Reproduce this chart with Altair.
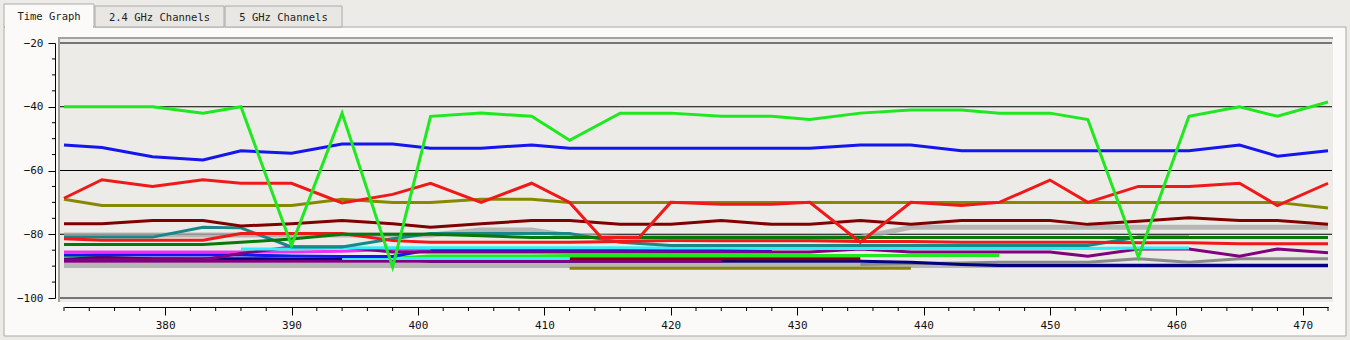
import altair as alt
import pandas as pd

# ---------------- data ----------------
tab_labels = ["Time Graph", "2.4 GHz Channels", "5 GHz Channels"]

T = [372, 375, 379, 383, 386, 390, 394, 398, 401, 405, 409, 412, 416, 420,
     424, 428, 431, 435, 439, 443, 446, 450, 453, 457, 461, 465, 468, 472]

green_v = [-40, -40, -40, -42, -40, -83.5, -42, -90.3, -43, -42, -43, -50.5, -42, -42,
           -43, -43, -44, -42, -41, -41, -42, -42, -44, -87.2, -43, -40, -43, -38.5]
blue_v = [-52, -52.8, -55.7, -56.7, -53.8, -54.6, -51.7, -51.7, -53, -53, -52, -53, -53, -53,
          -53, -53, -53, -52, -52, -53.8, -53.8, -53.8, -53.8, -53.8, -53.8, -52, -55.5, -53.8]
red_t = [372, 375, 379, 383, 386, 390, 394, 398, 401, 405, 409, 412, 414.5, 417.5, 420,
         424, 428, 431, 435, 439, 443, 446, 450, 453, 457, 461, 465, 468, 472]
red_v = [-68.7, -62.9, -65, -62.9, -64, -64, -70.2, -67.5, -64, -70, -64, -70, -81, -81, -70,
         -70.6, -70.6, -70, -82.5, -70, -71, -70, -63, -70, -65, -65, -64, -71, -64]
olive_v = [-69, -71, -71, -71, -71, -71, -69, -70, -70, -69, -69, -70, -70, -70,
           -70, -70, -70, -70, -70, -70, -70, -70, -70, -70, -70, -70, -70, -71.8]
maroon_v = [-76.7, -76.7, -75.7, -75.7, -77.4, -76.7, -75.7, -76.7, -77.8, -76.7, -75.7, -75.7, -76.9, -76.9,
            -75.7, -76.9, -76.9, -75.7, -76.9, -75.7, -75.7, -75.7, -76.9, -75.9, -74.8, -75.7, -75.7, -76.9]
gray_hi_v = [-80.2, -80.2, -80.2, -80.2, -80.2, -80.2, -80.2, -80.2, -80.2, -78.7, -78.7, -80.5, -81, -81,
             -81, -81, -81, -81, -77.8, -77.8, -77.8, -77.8, -77.8, -77.8, -77.8, -77.8, -77.8, -77.8]
gray_lo_v = [-89.8] * 28
gray_mid_t = [435, 439, 443, 446, 450, 453, 457, 461, 465, 468, 472]
gray_mid_v = [-89.5, -89.2, -89, -88.8, -88.8, -88.8, -87.7, -88.8, -87.7, -87.7, -87.7]
teal_t = T[:25]
teal_v = [-80.9, -80.9, -80.9, -77.8, -78, -84, -84, -81.4, -79.8, -79.8, -79.8, -79.8, -82.5, -83.5,
          -83.5, -83.5, -83.5, -83.5, -83.5, -83.5, -83.5, -83.5, -83.5, -80.9, -80.9]
dkgreen_v = [-83.2, -83.2, -83.2, -83.2, -82.5, -81.5, -80, -80, -80, -80.5, -81, -81, -81, -81,
             -81, -81, -81, -81, -81, -81, -81, -81, -81, -81, -81, -81, -81, -81]
red_lo_v = [-81.4, -81.9, -81.9, -81.9, -79.8, -79.8, -79.8, -82, -82.5, -82.5, -82.5, -82.5, -82.3, -82,
            -82, -82, -82, -82.3, -82.3, -82.5, -82.5, -82.5, -82.5, -82.7, -82.7, -83, -83, -83]
cyan_t = T[4:25]
cyan_v = [-84.6, -84.6, -84.3, -84.2, -84.2, -84.2, -84.2, -84.2, -84.2, -84.3, -84.3,
          -84.5, -84.5, -84.5, -84.5, -84.5, -84.5, -84.5, -84.5, -84.3, -84.3]
magenta_t = T[:9]
magenta_v = [-85.6, -85.6, -85.6, -85.6, -85.6, -85.6, -85.3, -84.8, -84.6]
purple_v = [-88, -88, -88, -88, -86, -84, -84, -85.6, -85.6, -85.6, -85.6, -85.6, -85.6, -85.6,
            -85.6, -85.6, -85.6, -84.6, -85.6, -85.6, -85.6, -85.6, -86.9, -84.6, -84.6, -86.9, -84.6, -85.8]
blue_lo_t = T[:16]
blue_lo_v = [-86.5, -86.5, -86.5, -86.5, -86.5, -86.8, -87, -87, -84.8, -84.8, -84.8, -85, -85, -85,
             -85, -85]
green_lo_t = T[:21]
green_lo_v = [-87, -86.3, -86.3, -86.3, -86.3, -87, -87, -87.5, -86.8, -86.8, -86.8, -86.7, -86.7, -86.7,
              -86.7, -86.7, -86.7, -86.7, -86.7, -86.7, -86.7]
cyan_lo_t = [394, 398, 401, 405, 409, 412]
cyan_lo_v = [-87.6, -87.6, -87.6, -87.6, -87.6, -87.6]
maroon_lo_t = [412, 416, 420, 424, 428, 431, 435]
maroon_lo_v = [-87.7, -87.7, -87.7, -87.7, -87.7, -87.7, -87.7]
maroon_lo0_t = [372, 375, 379, 383]
maroon_lo0_v = [-86.9, -87.2, -87.8, -88]
purple_lo_t = T[:15]
purple_lo_v = [-88.5] * 15
navy_v = [-87.7] * 8 + [-88.5] * 10 + [-88.8, -89.5] + [-89.8] * 8
olive_lo_t = [412, 416, 420, 424, 428, 431, 435, 439]
olive_lo_v = [-90.7] * 8

grid_values = [-20, -40, -60, -80, -100]
x_major = [380, 390, 400, 410, 420, 430, 440, 450, 460, 470]
x_minor = [t for t in range(372, 473, 2) if t % 10 != 0]
y_minor = [-95, -90, -85, -75, -70, -65, -55, -50, -45, -35, -30, -25]

# ---------------- styles ----------------
thick = [  # (name, t, v, colour)
    ("gray_lo", T, gray_lo_v, "#a9a9a9"),
    ("gray_hi", T, gray_hi_v, "#a9a9a9"),
]
thin = [
    ("gray_mid", gray_mid_t, gray_mid_v, "#8a8a8a"),
    ("olive_lo", olive_lo_t, olive_lo_v, "#888800"),
    ("navy", T, navy_v, "#000080"),
    ("purple_lo", purple_lo_t, purple_lo_v, "#800080"),
    ("maroon_lo0", maroon_lo0_t, maroon_lo0_v, "#800000"),
    ("maroon_lo", maroon_lo_t, maroon_lo_v, "#800000"),
    ("green_lo", green_lo_t, green_lo_v, "#20e820"),
    ("cyan_lo", cyan_lo_t, cyan_lo_v, "#2ff0f8"),
    ("blue_lo", blue_lo_t, blue_lo_v, "#1515ee"),
    ("magenta", magenta_t, magenta_v, "#f030f0"),
    ("purple", T, purple_v, "#800080"),
    ("cyan", cyan_t, cyan_v, "#2ff0f8"),
    ("teal", teal_t, teal_v, "#178787"),
    ("red_lo", T, red_lo_v, "#f01818"),
    ("dkgreen", T, dkgreen_v, "#087808"),
    ("maroon", T, maroon_v, "#800000"),
    ("olive", T, olive_v, "#888800"),
    ("red", red_t, red_v, "#f01818"),
    ("blue", T, blue_v, "#1515ee"),
    ("green", T, green_v, "#20e820"),
]

def frame(specs):
    rows = []
    for name, ts, vs, _ in specs:
        for t, v in zip(ts, vs):
            rows.append({"series": name, "t": t, "v": v})
    return pd.DataFrame(rows)

all_specs = thick + thin
names = [s[0] for s in all_specs]
colors = [s[3] for s in all_specs]

W, H = 1264, 255
xscale = alt.Scale(domain=[372, 472], nice=False, zero=False)
yscale = alt.Scale(domain=[-100, -20], nice=False, zero=False)
cscale = alt.Scale(domain=names, range=colors)

FONT = "DejaVu Sans Mono"
PANEL = "#fcfaf8"
BORDER = "#acaaa6"

xaxis = alt.Axis(values=x_major, format="d", tickSize=8, tickColor="black", tickWidth=1,
                 domainColor="black", domainWidth=1, labelFont=FONT, labelFontSize=11,
                 labelColor="#111", labelPadding=4, offset=9, grid=False, title=None,
                 zindex=1, labelFlush=False)
yaxis = alt.Axis(values=grid_values, format="d", tickSize=7, tickColor="black", tickWidth=1,
                 domainColor="black", domainWidth=1, labelFont=FONT, labelFontSize=11,
                 labelColor="#111", labelPadding=5, offset=9, grid=False, title=None,
                 zindex=1, labelFlush=False)

one = pd.DataFrame({"d": [0]})

def box(x, x2, y, y2, fill, stroke=None):
    kw = dict(fill=fill)
    if stroke:
        kw.update(stroke=stroke, strokeWidth=1)
    return alt.Chart(one).mark_rect(**kw).encode(
        x=alt.value(x), x2=alt.value(x2), y=alt.value(y), y2=alt.value(y2))

def label(txt, x, y):
    return alt.Chart(one).mark_text(font=FONT, fontSize=10.5, color="#222",
                                    align="center", baseline="middle").encode(
        x=alt.value(x), y=alt.value(y), text=alt.value(txt))

panel = box(-60, 1282, -16, 293, PANEL, BORDER)
tab1 = box(-60, 30, -39, -16, PANEL, BORDER)
tab1_cover = box(-59, 29, -17, -14, PANEL)
tab2 = box(31, 160, -37, -16, "#e9e7e3", BORDER)
tab3 = box(161, 278, -37, -16, "#e9e7e3", BORDER)
t1 = label(tab_labels[0], -15, -26)
t2 = label(tab_labels[1], 95.5, -25)
t3 = label(tab_labels[2], 219.5, -25)

plot_bg = box(-6, 1269, -6, 259, "#ecebe7")
frame_top = alt.Chart(one).mark_rule(color="#a3a19d", strokeWidth=2).encode(
    x=alt.value(-6), x2=alt.value(1269), y=alt.value(-5))
frame_left = alt.Chart(one).mark_rule(color="#a3a19d", strokeWidth=2).encode(
    y=alt.value(-6), y2=alt.value(259), x=alt.value(-5))

grid = alt.Chart(pd.DataFrame({"gv": grid_values})).mark_rule(color="black", strokeWidth=1).encode(
    y=alt.Y("gv:Q", scale=yscale, axis=yaxis), x=alt.value(-4), x2=alt.value(1268))

xminor = alt.Chart(pd.DataFrame({"mx": x_minor})).mark_rule(color="black", strokeWidth=1).encode(
    x=alt.X("mx:Q", scale=xscale, axis=xaxis), y=alt.value(H + 9), y2=alt.value(H + 13))
yminor = alt.Chart(pd.DataFrame({"my": y_minor})).mark_rule(color="black", strokeWidth=1).encode(
    y=alt.Y("my:Q", scale=yscale, axis=yaxis), x=alt.value(-9), x2=alt.value(-12))

thick_lines = alt.Chart(frame(thick)).mark_line(strokeWidth=5, opacity=0.8, strokeCap="butt").encode(
    x=alt.X("t:Q", scale=xscale, axis=xaxis),
    y=alt.Y("v:Q", scale=yscale, axis=yaxis),
    color=alt.Color("series:N", scale=cscale, legend=None),
)
thin_lines = alt.Chart(frame(thin)).mark_line(strokeWidth=3, strokeCap="butt").encode(
    x=alt.X("t:Q", scale=xscale, axis=xaxis),
    y=alt.Y("v:Q", scale=yscale, axis=yaxis),
    color=alt.Color("series:N", scale=cscale, legend=None),
)

chart = alt.layer(
    panel, tab2, tab3, tab1, tab1_cover, t1, t2, t3,
    plot_bg, frame_top, frame_left, grid, xminor, yminor,
    thick_lines, thin_lines,
).properties(
    width=W, height=H,
    autosize=alt.AutoSizeParams(type="none"),
    padding={"left": 64, "top": 43, "right": 22, "bottom": 42},
    background="#edebe8",
).configure_view(stroke=None)

chart.save("out.html", embed_options={"renderer": "svg", "actions": False})
